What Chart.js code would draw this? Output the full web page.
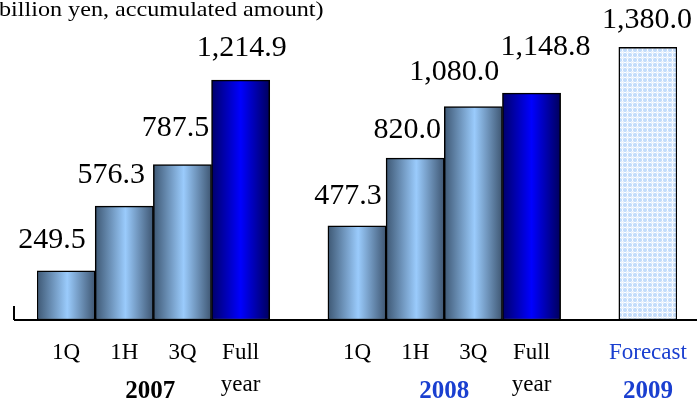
<!DOCTYPE html>
<html>
<head>
<meta charset="utf-8">
<script src="https://cdn.jsdelivr.net/npm/chart.js@4.4.1/dist/chart.umd.min.js"></script>
<style>
  html, body { margin: 0; padding: 0; background: #fff; }
  #wrap { width: 697px; height: 404px; }
</style>
</head>
<body>
<div id="wrap"><canvas id="salesChart" width="697" height="404"></canvas></div>
<script>
// Data (billion yen, accumulated amount)
const categories = ['1Q', '1H', '3Q', ['Full', 'year'], '', '1Q', '1H', '3Q', ['Full', 'year'], '', 'Forecast'];
const salesValues = [249.5, 576.3, 787.5, 1214.9, null, 477.3, 820.0, 1080.0, 1148.8, null, 1380.0];
const valueLabels = ['249.5', '576.3', '787.5', '1,214.9', '', '477.3', '820.0', '1,080.0', '1,148.8', '', '1,380.0'];
const years = ['2007', '2008', '2009'];
const yearGroups = [[0, 3], [5, 8], [10, 10]];

// Label nudges [dx, dy above bar top]
const labelShift = [[-14, 31], [-13, 31], [-7, 36], [1, 32], [0, 0], [-9, 30], [-8, 28], [-19, 35], [14, 46], [0, 0], [-1, 27]];

const blueText = '#1a3fd0';
const serif = '"Liberation Serif", "Times New Roman", serif';

// Hatched pattern for the forecast bar
function makePattern() {
    const tile = document.createElement('canvas');
    tile.width = 5;
    tile.height = 5;
    const t = tile.getContext('2d');
    t.fillStyle = '#c4ddfb';
    t.fillRect(0, 0, 5, 5);
    t.fillStyle = '#ffffff';
    t.fillRect(2, 0, 1, 5);
    t.fillRect(0, 2, 5, 1);
    t.fillStyle = '#e6f0fd';
    t.fillRect(1, 1, 3, 3);
    t.fillStyle = '#ffffff';
    t.fillRect(2, 2, 1, 1);
    return document.getElementById('salesChart').getContext('2d').createPattern(tile, 'repeat');
}
const forecastPattern = makePattern();

function barFill(context) {
    const chart = context.chart;
    const xs = chart.scales.x;
    const i = context.dataIndex;
    const label = categories[i];
    if (label === 'Forecast') return forecastPattern;
    const isFull = Array.isArray(label);
    if (!xs || !chart.chartArea) return isFull ? '#0000ee' : '#8fc0f0';
    const cx = xs.getPixelForValue(i);
    const half = xs.width / categories.length / 2;
    const g = chart.ctx.createLinearGradient(cx - half, 0, cx + half, 0);
    if (isFull) {
        g.addColorStop(0, '#00006a');
        g.addColorStop(0.5, '#0000ff');
        g.addColorStop(1, '#00005c');
    } else {
        g.addColorStop(0, '#3e5874');
        g.addColorStop(0.52, '#9acbfc');
        g.addColorStop(1, '#3e5672');
    }
    return g;
}

const decorations = {
    id: 'decorations',
    afterDatasetsDraw(chart) {
        const ctx = chart.ctx;
        const xs = chart.scales.x;
        const ys = chart.scales.y;
        const base = ys.getPixelForValue(0);

        // baseline and left tick
        ctx.save();
        ctx.strokeStyle = '#000';
        ctx.lineWidth = 2;
        ctx.beginPath();
        ctx.moveTo(14, base);
        ctx.lineTo(697, base);
        ctx.moveTo(14, base - 14);
        ctx.lineTo(14, base);
        ctx.stroke();

        // value labels
        ctx.fillStyle = '#000';
        ctx.font = '30px ' + serif;
        ctx.textAlign = 'center';
        ctx.textBaseline = 'middle';
        salesValues.forEach(function(v, i) {
            if (v === null) return;
            const x = xs.getPixelForValue(i) + labelShift[i][0];
            const y = ys.getPixelForValue(v) - labelShift[i][1];
            ctx.fillText(valueLabels[i], x, y);
        });

        // year labels
        ctx.font = 'bold 25px ' + serif;
        years.forEach(function(yr, k) {
            const g = yearGroups[k];
            const x = (xs.getPixelForValue(g[0]) + xs.getPixelForValue(g[1])) / 2;
            ctx.fillStyle = k === 0 ? '#000' : blueText;
            ctx.fillText(yr, x - (k === 0 ? 3 : 0), 392);
        });

        // unit note, left part cut off as in the original
        ctx.translate(-1, 0);
        ctx.scale(1.15, 1);
        ctx.font = '21px ' + serif;
        ctx.textAlign = 'left';
        ctx.textBaseline = 'alphabetic';
        ctx.fillStyle = '#000';
        ctx.fillText('billion yen, accumulated amount)', 0, 16);
        ctx.restore();
    }
};

document.addEventListener('DOMContentLoaded', function() {
    const ctx = document.getElementById('salesChart').getContext('2d');
    new Chart(ctx, {
        type: 'bar',
        data: {
            labels: categories,
            datasets: [{
                data: salesValues,
                backgroundColor: barFill,
                borderColor: '#000',
                borderWidth: 1.5,
                borderSkipped: false,
                barPercentage: 1,
                categoryPercentage: 1
            }]
        },
        options: {
            responsive: false,
            animation: false,
            layout: { padding: { left: 37, right: 20, top: 4, bottom: 0 } },
            scales: {
                x: {
                    grid: { display: false },
                    border: { display: false },
                    ticks: {
                        padding: 9,
                        maxRotation: 0,
                        autoSkip: false,
                        font: { family: serif, size: 23, lineHeight: 1.39 },
                        color: function(c) { return categories[c.index] === 'Forecast' ? blueText : '#000'; }
                    },
                    afterFit: function(scale) { scale.height = 84; }
                },
                y: {
                    display: false,
                    min: 0,
                    max: 1600
                }
            },
            plugins: {
                legend: { display: false },
                tooltip: { enabled: false }
            }
        },
        plugins: [decorations]
    });
});
</script>
</body>
</html>
